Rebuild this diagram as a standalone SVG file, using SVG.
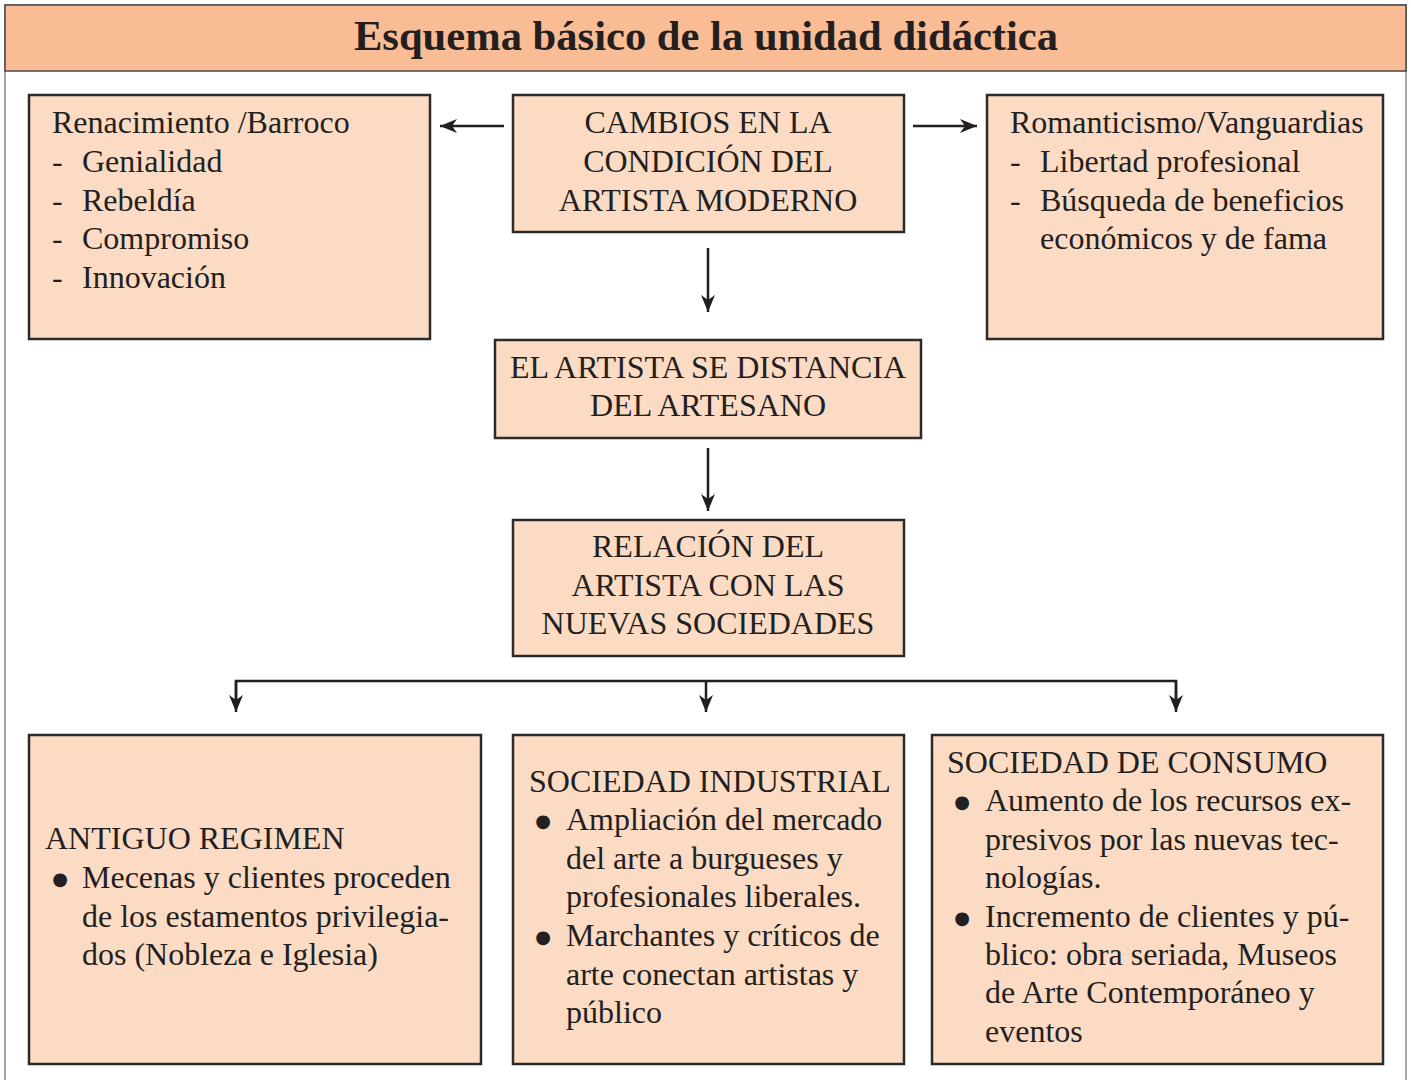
<svg xmlns="http://www.w3.org/2000/svg" width="1411" height="1080" viewBox="0 0 1411 1080">
<style>
text{font-family:"Liberation Serif","Times New Roman",serif;fill:#231F20;font-size:32px}
.c{text-anchor:middle}
.b{text-anchor:middle;font-family:"DejaVu Sans",sans-serif;font-size:18px}
.box{fill:#FBDBC3;stroke:#2B2B2B;stroke-width:2.5}
.con{stroke:#231F20;stroke-width:2.5;fill:none}
</style>
<defs>
<marker id="ah" markerUnits="userSpaceOnUse" markerWidth="20" markerHeight="16" refX="17" refY="8" orient="auto">
<path d="M0,1 L17,8 L0,15 L5,8 Z" fill="#231F20"/>
</marker>
</defs>
<rect x="5" y="5" width="1401" height="1110" fill="#fff" stroke="#8a8a8a" stroke-width="1.5"/>
<g id="title">
<rect x="5" y="5" width="1401" height="66" fill="#F9BC94" stroke="#444" stroke-width="1.5"/>
<text x="706" y="50" class="c" style="font-size:42.6px;font-weight:bold">Esquema básico de la unidad didáctica</text>
</g>
<g id="connectors">
<line class="con" x1="504" y1="126" x2="440" y2="126" marker-end="url(#ah)"/>
<line class="con" x1="913" y1="126" x2="977" y2="126" marker-end="url(#ah)"/>
<line class="con" x1="708" y1="248" x2="708" y2="312" marker-end="url(#ah)"/>
<line class="con" x1="708" y1="448" x2="708" y2="511" marker-end="url(#ah)"/>
<polyline class="con" points="236,700 236,681 1176,681 1176,700"/>
<line class="con" x1="236" y1="681" x2="236" y2="712" marker-end="url(#ah)"/>
<line class="con" x1="706" y1="681" x2="706" y2="712" marker-end="url(#ah)"/>
<line class="con" x1="1176" y1="681" x2="1176" y2="712" marker-end="url(#ah)"/>
</g>
<g id="renacimiento">
<rect class="box" x="29" y="95" width="401" height="244"/>
<text x="52" y="133">Renacimiento /Barroco</text>
<text x="52" y="172">-</text><text x="82" y="172">Genialidad</text>
<text x="52" y="211">-</text><text x="82" y="211">Rebeldía</text>
<text x="52" y="249">-</text><text x="82" y="249">Compromiso</text>
<text x="52" y="288">-</text><text x="82" y="288">Innovación</text>
</g>
<g id="cambios">
<rect class="box" x="513" y="95" width="391" height="137"/>
<text x="708" y="133" class="c">CAMBIOS EN LA</text>
<text x="708" y="172" class="c">CONDICIÓN DEL</text>
<text x="708" y="211" class="c">ARTISTA MODERNO</text>
</g>
<g id="romanticismo">
<rect class="box" x="987" y="95" width="396" height="244"/>
<text x="1010" y="133">Romanticismo/Vanguardias</text>
<text x="1010" y="172">-</text><text x="1040" y="172">Libertad profesional</text>
<text x="1010" y="211">-</text><text x="1040" y="211">Búsqueda de beneficios</text>
<text x="1040" y="249">económicos y de fama</text>
</g>
<g id="distancia">
<rect class="box" x="495" y="340" width="426" height="98"/>
<text x="708" y="378" class="c">EL ARTISTA SE DISTANCIA</text>
<text x="708" y="416" class="c">DEL ARTESANO</text>
</g>
<g id="relacion">
<rect class="box" x="513" y="520" width="391" height="136"/>
<text x="708" y="557" class="c">RELACIÓN DEL</text>
<text x="708" y="596" class="c">ARTISTA CON LAS</text>
<text x="708" y="634" class="c">NUEVAS SOCIEDADES</text>
</g>
<g id="antiguo">
<rect class="box" x="29" y="735" width="452" height="329"/>
<text x="45" y="849">ANTIGUO REGIMEN</text>
<text x="60" y="885" class="b">●</text><text x="82" y="888">Mecenas y clientes proceden</text>
<text x="82" y="927">de los estamentos privilegia-</text>
<text x="82" y="965">dos (Nobleza e Iglesia)</text>
</g>
<g id="industrial">
<rect class="box" x="513" y="735" width="391" height="329"/>
<text x="529" y="792">SOCIEDAD INDUSTRIAL</text>
<text x="543" y="827" class="b">●</text><text x="566" y="830">Ampliación del mercado</text>
<text x="566" y="869">del arte a burgueses y</text>
<text x="566" y="907">profesionales liberales.</text>
<text x="543" y="943" class="b">●</text><text x="566" y="946">Marchantes y críticos de</text>
<text x="566" y="985">arte conectan artistas y</text>
<text x="566" y="1023">público</text>
</g>
<g id="consumo">
<rect class="box" x="932" y="735" width="451" height="329"/>
<text x="947" y="773">SOCIEDAD DE CONSUMO</text>
<text x="962" y="808" class="b">●</text><text x="985" y="811">Aumento de los recursos ex-</text>
<text x="985" y="850">presivos por las nuevas tec-</text>
<text x="985" y="888">nologías.</text>
<text x="962" y="924" class="b">●</text><text x="985" y="927">Incremento de clientes y pú-</text>
<text x="985" y="965">blico: obra seriada, Museos</text>
<text x="985" y="1003">de Arte Contemporáneo y</text>
<text x="985" y="1042">eventos</text>
</g>
</svg>
